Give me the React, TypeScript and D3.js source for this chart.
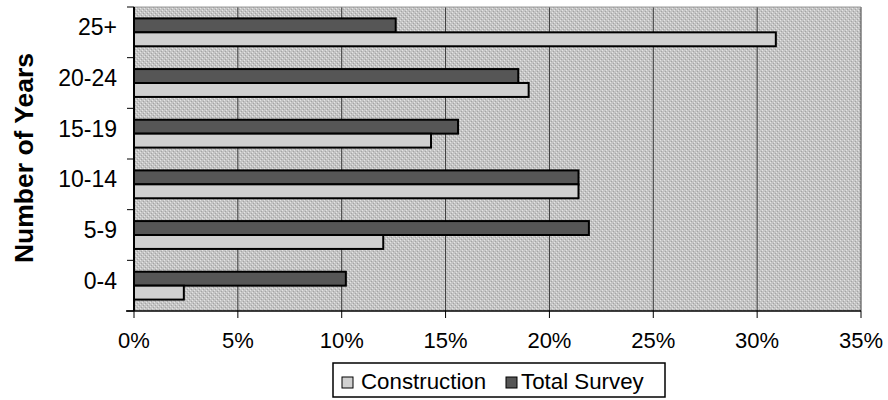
import React from "react";
import * as d3 from "d3";

// Share of respondents by number of years, two series
const categories = ["25+", "20-24", "15-19", "10-14", "5-9", "0-4"];
const seriesNames = ["Total Survey", "Construction"];
const totalSurvey = [12.6, 18.5, 15.6, 21.4, 21.9, 10.2];
const construction = [30.9, 19.0, 14.3, 21.4, 12.0, 2.4];
const xTicks = [0, 5, 10, 15, 20, 25, 30, 35];

const W = 888;
const H = 400;
const plot = { left: 134, right: 861, top: 7, bottom: 311 };

const fills: Record<string, string> = {
  "Total Survey": "#565656",
  Construction: "#d0d0d0",
};

export default function App() {
  const x = d3.scaleLinear().domain([0, 35]).range([plot.left, plot.right]);
  const y = d3.scaleBand<string>().domain(categories).range([plot.top, plot.bottom]).padding(0);
  const groupH = y.bandwidth() * 0.55;
  const sub = d3.scaleBand<string>().domain(seriesNames).range([0, groupH]).padding(0);
  const valuesFor: Record<string, number[]> = {
    "Total Survey": totalSurvey,
    Construction: construction,
  };
  const font = "Arial, 'Liberation Sans', Helvetica, sans-serif";
  const boundaries = d3.range(categories.length + 1).map((i) => plot.top + i * y.step());

  return (
    <svg width={W} height={H} style={{ position: "absolute", left: 0, top: 0 }} fontFamily={font}>
      <defs>
        <pattern id="grain" width="4" height="4" patternUnits="userSpaceOnUse">
          <rect width="4" height="4" fill="#c4c4c4" />
          <rect x="0" y="0" width="1" height="1" fill="#e4e4e4" />
          <rect x="2" y="2" width="1" height="1" fill="#e4e4e4" />
          <rect x="1" y="3" width="1" height="1" fill="#a4a4a4" />
          <rect x="3" y="1" width="1" height="1" fill="#a4a4a4" />
        </pattern>
      </defs>
      <rect x={0} y={0} width={W} height={H} fill="#ffffff" />
      {/* plot area */}
      <rect
        x={plot.left}
        y={plot.top}
        width={plot.right - plot.left}
        height={plot.bottom - plot.top}
        fill="url(#grain)"
      />
      {/* vertical gridlines */}
      {xTicks.slice(1).map((t) => (
        <line
          key={"g" + t}
          x1={x(t)}
          x2={x(t)}
          y1={plot.top}
          y2={plot.bottom}
          stroke="#3a3a3a"
          strokeWidth={1}
        />
      ))}
      <line x1={plot.left} x2={plot.right} y1={plot.top} y2={plot.top} stroke="#9a9a9a" strokeWidth={1} />
      {/* bars */}
      {categories.map((c, i) => {
        const y0 = (y(c) as number) + (y.bandwidth() - groupH) / 2;
        return seriesNames.map((s) => (
          <rect
            key={c + s}
            x={x(0)}
            y={y0 + (sub(s) as number)}
            width={x(valuesFor[s][i]) - x(0)}
            height={sub.bandwidth()}
            fill={fills[s]}
            stroke="#000"
            strokeWidth={2}
          />
        ));
      })}
      {/* axes */}
      <line x1={plot.left} x2={plot.left} y1={plot.top} y2={plot.bottom} stroke="#000" strokeWidth={2} />
      <line x1={plot.left - 8} x2={plot.right} y1={plot.bottom} y2={plot.bottom} stroke="#000" strokeWidth={1.5} />
      {boundaries.map((b, i) => (
        <line key={"yt" + i} x1={plot.left - 7} x2={plot.left} y1={b} y2={b} stroke="#000" strokeWidth={1} />
      ))}
      {xTicks.map((t) => (
        <line key={"xt" + t} x1={x(t)} x2={x(t)} y1={plot.bottom} y2={plot.bottom + 7} stroke="#000" strokeWidth={1} />
      ))}
      {categories.map((c) => (
        <text
          key={"yl" + c}
          x={117}
          y={(y(c) as number) + y.bandwidth() / 2 - 5}
          textAnchor="end"
          dominantBaseline="central"
          fontSize={23}
          fill="#000"
        >
          {c}
        </text>
      ))}
      {xTicks.map((t) => (
        <text key={"xl" + t} x={x(t)} y={348} textAnchor="middle" fontSize={22} fill="#000">
          {t + "%"}
        </text>
      ))}
      <text
        transform={`translate(33, ${(plot.top + plot.bottom) / 2 - 1}) rotate(-90)`}
        textAnchor="middle"
        fontSize={26.5}
        fontWeight="bold"
        fill="#000"
      >
        Number of Years
      </text>
      {/* legend */}
      <rect x={333} y={363} width={332} height={34} fill="#fff" stroke="#000" strokeWidth={1.5} />
      <rect x={342} y={377} width={11} height={11} fill={fills.Construction} stroke="#000" strokeWidth={1} />
      <text x={361} y={389} fontSize={22.3} fill="#000">Construction</text>
      <rect x={506} y={377} width={11} height={11} fill={fills["Total Survey"]} stroke="#000" strokeWidth={1} />
      <text x={521} y={389} fontSize={22.3} fill="#000">Total Survey</text>
    </svg>
  );
}
